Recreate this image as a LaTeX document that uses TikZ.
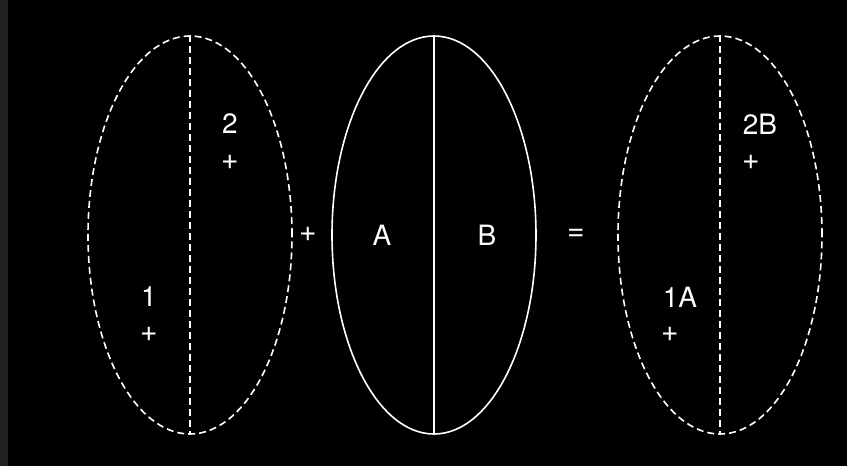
\documentclass[tikz,border=0pt]{standalone}
\usepackage{fontspec}
\setmainfont{TeX Gyre Heros}
\usetikzlibrary{shapes.geometric}
\definecolor{cBg}{RGB}{0,0,0}
\definecolor{cStrip}{RGB}{34,34,34}
\tikzset{
	halfell/.style ={ellipse, draw=white, line width=1.6pt, minimum width=204pt, minimum height=398pt, inner sep=0pt},
	dashell/.style ={halfell, dash pattern=on 7pt off 4pt},
	lbl/.style     ={text=white, font=\fontsize{28}{28}\selectfont, inner sep=0pt},
	op/.style      ={text=white, font=\fontsize{30}{30}\selectfont, inner sep=0pt},
}
\begin{document}
\begin{tikzpicture}[x=1pt, y=-1pt]
	\fill[cBg] (0,0) rectangle (847,466);
	\fill[cStrip] (0,0) rectangle (8,466);
	\useasboundingbox (0,0) rectangle (847,466);
	% three ellipses, each cut in half
	\node[dashell] (ea) at (190,235) {};
	\node[halfell] (eb) at (434,235) {};
	\node[dashell] (ec) at (720,235) {};
	\draw[white, line width=1.6pt, dash pattern=on 7pt off 4pt] (ea.north) -- (ea.south);
	\draw[white, line width=1.6pt] (eb.north) -- (eb.south);
	\draw[white, line width=1.6pt, dash pattern=on 7pt off 4pt] (ec.north) -- (ec.south);
	% labels
	\node[lbl] (two) at (230,124) {2};
	\node[op] (twop) at (230,162) {+};
	\node[lbl] (one) at (149,297) {1};
	\node[op] (onep) at (149,334) {+};
	\node[lbl] (la) at (382,235) {A};
	\node[lbl] (lb) at (487,235) {B};
	\node[lbl] (twob) at (760,124) {2B};
	\node[op] (twobp) at (751,162) {+};
	\node[lbl] (onea) at (680,297) {1A};
	\node[op] (oneap) at (670,334) {+};
	% operators
	\node[op] (plus) at (308,234) {+};
	\node[op] (eq) at (576,235) {=};
\end{tikzpicture}
\end{document}
